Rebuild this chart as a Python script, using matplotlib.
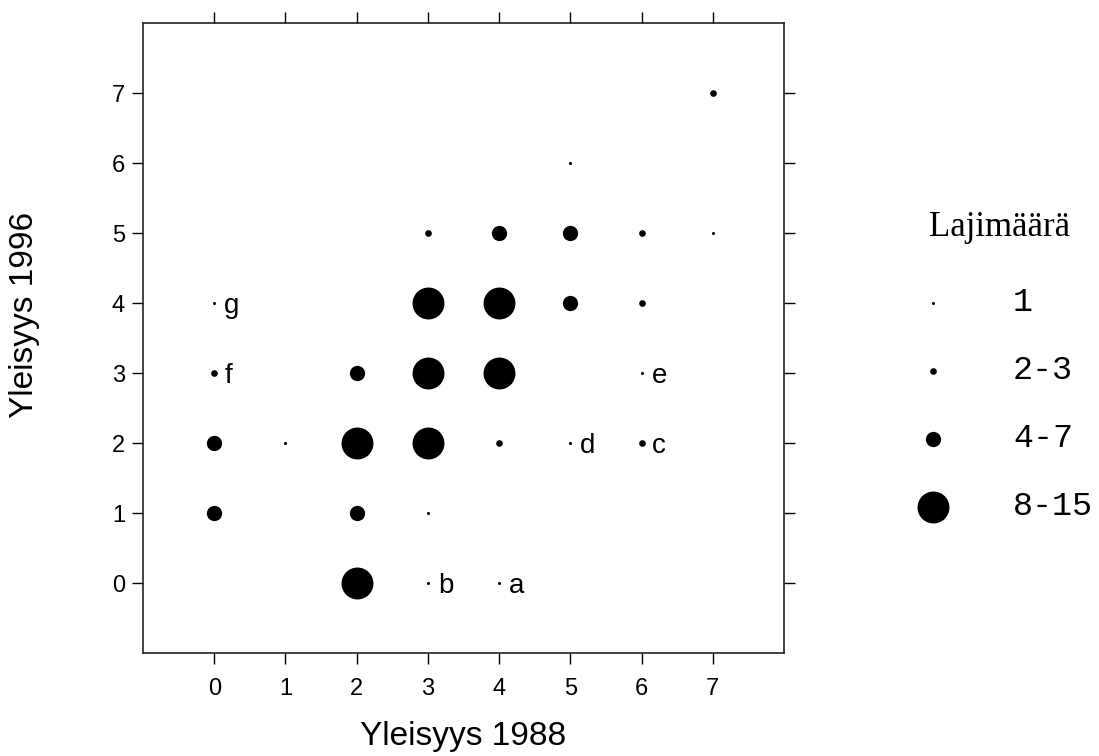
import numpy as np
import matplotlib
matplotlib.use("Agg")
import matplotlib.pyplot as plt

# --- data: species counts per (1988, 1996) frequency class ---
yleisyys_1988 = [7, 5, 3, 4, 5, 6, 7, 0, 3, 4, 5, 6, 0, 2, 3, 4, 6,
                 0, 1, 2, 3, 4, 5, 6, 0, 2, 3, 2, 3, 4]
yleisyys_1996 = [7, 6, 5, 5, 5, 5, 5, 4, 4, 4, 4, 4, 3, 3, 3, 3, 3,
                 2, 2, 2, 2, 2, 2, 2, 1, 1, 1, 0, 0, 0]
# size class index into size_labels
size_class = [1, 0, 1, 2, 2, 1, 0, 0, 3, 3, 2, 1, 1, 2, 3, 3, 0,
              2, 0, 3, 3, 1, 0, 1, 2, 2, 0, 3, 0, 0]

size_labels = ['1', '2-3', '4-7', '8-15']

# letter annotations
label_x = [4, 3, 6, 5, 6, 0, 0]
label_y = [0, 0, 2, 2, 3, 3, 4]
label_txt = ['a', 'b', 'c', 'd', 'e', 'f', 'g']

ticks = list(range(8))

# marker diameter (points) per size class
marker_pt = [2.2, 4.8, 11, 23]

sans = 'Liberation Sans'

fig = plt.figure(figsize=(10.99, 7.56), dpi=100)
ax = fig.add_axes([0.1301, 0.1362, 0.5833, 0.8333])

for c in range(len(size_labels)):
    xs = [x for x, k in zip(yleisyys_1988, size_class) if k == c]
    ys = [y for y, k in zip(yleisyys_1996, size_class) if k == c]
    ax.plot(xs, ys, 'o', color='black', markersize=marker_pt[c],
            markeredgewidth=0, linestyle='none')

for x, y, t in zip(label_x, label_y, label_txt):
    ax.text(x + 0.14, y, t, fontsize=20, family=sans,
            ha='left', va='center_baseline', color='black')

ax.set_xlim(-1, 8)
ax.set_ylim(-1, 8)
ax.set_xticks(ticks)
ax.set_yticks(ticks)
ax.tick_params(axis='both', direction='out', length=8, width=1,
               labelsize=17, top=True, right=True,
               labeltop=False, labelright=False)
ax.tick_params(axis='x', pad=10)
ax.tick_params(axis='y', pad=5)
for lab in ax.get_xticklabels() + ax.get_yticklabels():
    lab.set_family(sans)
for sp in ax.spines.values():
    sp.set_linewidth(1.2)
    sp.set_color('#222222')

ax.set_xlabel('Yleisyys 1988', fontsize=24, family=sans)
ax.set_ylabel('Yleisyys 1996', fontsize=24, family=sans)
ax.xaxis.set_label_coords(0.5, -0.108)
ax.yaxis.set_label_coords(-0.160, 0.537)

# --- legend drawn in its own axes ---
lax = fig.add_axes([0.8007, 0.258, 0.1993, 0.4854])
lax.set_xlim(0, 1)
lax.set_ylim(3.8, -1.6)
lax.axis('off')
rows = np.arange(len(size_labels))
for i, lab in zip(rows, size_labels):
    lax.plot(0.242, i, 'o', color='black', markersize=marker_pt[i],
             markeredgewidth=0)
    lax.text(0.607, i, lab, fontsize=24, family='Liberation Mono',
             ha='left', va='center')
lax.text(0.548, -1.1, 'Lajimäärä', fontsize=25, family='Liberation Serif',
         ha='center', va='center')

fig.savefig('out.png', dpi=100)
